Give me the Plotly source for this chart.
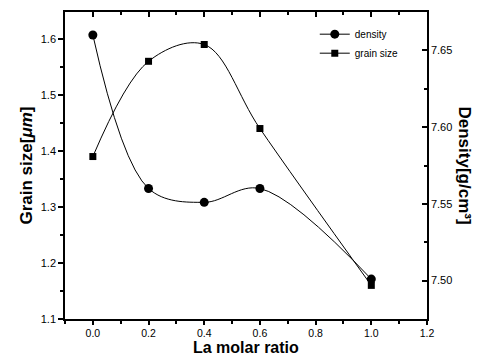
import plotly.graph_objects as go

la_ratio = [0.0, 0.2, 0.4, 0.6, 1.0]
grain_size = [1.39, 1.56, 1.59, 1.44, 1.16]
density = [7.660, 7.560, 7.551, 7.560, 7.501]

x_ticks = [0.0, 0.2, 0.4, 0.6, 0.8, 1.0, 1.2]
x_tick_text = ["0.0", "0.2", "0.4", "0.6", "0.8", "1.0", "1.2"]
y_ticks = [1.1, 1.2, 1.3, 1.4, 1.5, 1.6]
y2_ticks = [7.50, 7.55, 7.60, 7.65]
y2_tick_text = ["7.50", "7.55", "7.60", "7.65"]

font = "Liberation Sans, Arial, sans-serif"

fig = go.Figure()
fig.add_trace(go.Scatter(
    x=la_ratio, y=density, name="density", yaxis="y2",
    mode="lines+markers", line=dict(color="black", width=1, shape="spline", smoothing=1),
    marker=dict(symbol="circle", size=9, color="black"),
))
fig.add_trace(go.Scatter(
    x=la_ratio, y=grain_size, name="grain size",
    mode="lines+markers", line=dict(color="black", width=1, shape="spline", smoothing=1),
    marker=dict(symbol="square", size=7, color="black"),
))
# invisible trace to anchor the top axis
fig.add_trace(go.Scatter(x=[None], y=[None], xaxis="x2", showlegend=False, hoverinfo="skip"))

fig.update_layout(
    width=489, height=358,
    margin=dict(l=65, r=62, t=12, b=39),
    paper_bgcolor="white", plot_bgcolor="white",
    font=dict(family=font, size=11, color="black"),
    showlegend=True,
    legend=dict(x=0.69, y=0.975, xanchor="left", yanchor="top",
                bgcolor="rgba(0,0,0,0)", font=dict(size=10, family=font),
                tracegroupgap=0),
    xaxis=dict(
        range=[-0.1, 1.2], tickvals=x_ticks, ticktext=x_tick_text, automargin=False,
        ticks="outside", ticklen=4, tickwidth=1.5, tickcolor="black",
        minor=dict(dtick=0.1, tick0=0, ticks="outside", ticklen=3, tickcolor="black"),
        showline=True, linecolor="black", linewidth=1.5, showgrid=False, zeroline=False,
        tickfont=dict(size=10.5),
    ),
    xaxis2=dict(
        overlaying="x", side="top", range=[-0.1, 1.2], tickvals=x_ticks, automargin=False,
        showticklabels=False, ticks="inside", ticklen=5, tickwidth=1.5, tickcolor="black",
        minor=dict(dtick=0.1, tick0=0, ticks="inside", ticklen=3, tickcolor="black"),
        showline=True, linecolor="black", linewidth=1.5, showgrid=False, zeroline=False,
    ),
    yaxis=dict(
        range=[1.1, 1.648], tickvals=y_ticks, automargin=False,
        ticks="outside", ticklen=5, tickwidth=1.5, tickcolor="black",
        minor=dict(dtick=0.05, tick0=1.1, ticks="outside", ticklen=3, tickcolor="black"),
        showline=True, linecolor="black", linewidth=1.5, showgrid=False, zeroline=False,
        tickfont=dict(size=11),
    ),
    yaxis2=dict(
        overlaying="y", side="right", range=[7.475, 7.675], tickvals=y2_ticks, ticktext=y2_tick_text,
        automargin=False,
        ticks="inside", ticklen=5, tickwidth=1.5, tickcolor="black",
        minor=dict(dtick=0.025, tick0=7.5, ticks="inside", ticklen=3, tickcolor="black"),
        showline=True, linecolor="black", linewidth=1.5, showgrid=False, zeroline=False,
        tickfont=dict(size=11),
    ),
    annotations=[
        dict(text="<b>La molar ratio</b>", xref="paper", yref="paper",
             x=0.5, y=-39 / 307, xanchor="center", yanchor="bottom", yshift=0, showarrow=False,
             font=dict(size=16, family=font)),
        dict(text="<b>Grain size[<i>μm</i>]</b>", textangle=-90, xref="paper", yref="paper",
             x=0, y=0.5, xanchor="center", yanchor="middle", xshift=-39, showarrow=False,
             font=dict(size=17, family=font)),
        dict(text="<b>Density[g/cm³]</b>", textangle=90, xref="paper", yref="paper",
             x=1.0, y=0.5, xanchor="center", yanchor="middle", xshift=37, showarrow=False,
             font=dict(size=17, family=font)),
    ],
)

fig.write_html("out.html", config={"displayModeBar": False},
               post_script="document.body.style.margin='0';document.body.style.overflow='hidden';")
